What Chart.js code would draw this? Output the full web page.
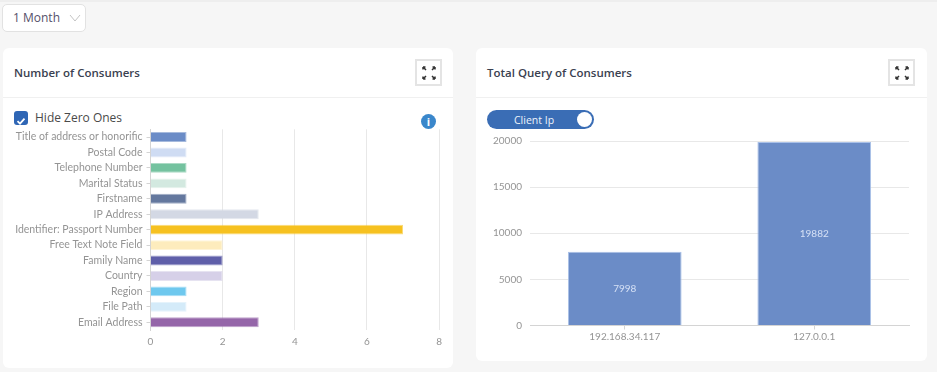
<!DOCTYPE html>
<html lang="en">
<head>
    <meta charset="UTF-8">
    <title>Consumers</title>
    <script src="https://cdn.jsdelivr.net/npm/chart.js"></script>
    <style>
        html, body { margin: 0; padding: 0; }
        body {
            width: 937px; height: 372px; overflow: hidden; position: relative;
            background: #f6f6f6; font-family: "Open Sans", sans-serif; color: #3c4250;
        }
        .topband { position: absolute; left: 0; top: 0; width: 937px; height: 2px; background: #eeeeee; }
        .select {
            position: absolute; left: 2px; top: 4px; width: 82px; height: 26px;
            background: #fff; border: 1px solid #e2e2e2; border-radius: 5px;
            font-size: 12px; line-height: 26px; text-indent: 10px; color: #55506a;
        }
        .select svg { position: absolute; left: 66px; top: 9px; }
        .card { position: absolute; background: #fff; border-radius: 6px; top: 48px; }
        #cardLeft { left: 3px; width: 450px; height: 320px; }
        #cardRight { left: 476px; width: 451px; height: 313px; }
        .divider { position: absolute; left: 0; right: 0; top: 49px; height: 1px; background: #f0f0f0; }
        .title { position: absolute; left: 11px; top: 16px; font-size: 11.5px; font-weight: 600; line-height: 18px; color: #3a4150; }
        .expand {
            position: absolute; top: 11px; width: 23px; height: 23px;
            border: 2px solid #e4e4e4; background: #fff;
        }
        .expand svg { position: absolute; left: 4.5px; top: 4.5px; }
        .check {
            position: absolute; left: 14px; top: 111px; width: 14px; height: 14px;
            background: #2f66b5; border-radius: 3px;
        }
        .checktext { position: absolute; left: 35px; top: 109px; font-size: 12px; line-height: 18px; color: #4a4a4a; }
        .info {
            position: absolute; left: 421px; top: 114px; width: 15px; height: 15px; border-radius: 50%;
            background: #3a87cb; color: #fff; font-size: 11px; font-weight: 700; line-height: 15px; text-align: center;
        }
        .toggle {
            position: absolute; left: 487px; top: 110px; width: 107px; height: 19px;
            background: #3a6db5; border-radius: 10px; color: #eef3fb;
            font-size: 10.5px; line-height: 20px; text-indent: 27px;
        }
        .knob { position: absolute; left: 90px; top: 2px; width: 15px; height: 15px; background: #fff; border-radius: 50%; }
        canvas { position: absolute; display: block; }
        #consumersChart { left: 5px; top: 119px; }
        #queryChart { left: 480px; top: 127px; }
    </style>
</head>
<body>
    <div class="topband"></div>
    <div class="select">1 Month
        <svg width="12" height="8"><path d="M1 1 L6 7 L11 1" fill="none" stroke="#c4c4c4" stroke-width="1"/></svg>
    </div>

    <div class="card" id="cardLeft">
        <div class="title">Number of Consumers</div>
        <div class="expand" style="left:412px"><svg width="14" height="14"><use href="#expandIcon"/></svg></div>
        <div class="divider"></div>
    </div>
    <div class="card" id="cardRight">
        <div class="title">Total Query of Consumers</div>
        <div class="expand" style="left:412px"><svg width="14" height="14"><use href="#expandIcon"/></svg></div>
        <div class="divider"></div>
    </div>

    <div class="check">
        <svg width="14" height="14"><path d="M3.5 7.2 L6 9.6 L10.5 4.6" fill="none" stroke="#fff" stroke-width="1.8"/></svg>
    </div>
    <div class="checktext">Hide Zero Ones</div>
    <div class="info">i</div>
    <div class="toggle">Client Ip<div class="knob"></div></div>

    <canvas id="consumersChart" width="443" height="243"></canvas>
    <canvas id="queryChart" width="440" height="230"></canvas>

    <svg width="0" height="0" style="position:absolute">
        <defs>
            <g id="expandIcon" fill="none" stroke="#333" stroke-width="1.5">
                <path d="M1 1 L4 4 M1 1 L1 3.5 M1 1 L3.5 1"/>
                <path d="M13 1 L10 4 M13 1 L13 3.5 M13 1 L10.5 1"/>
                <path d="M1 13 L4 10 M1 13 L1 10.5 M1 13 L3.5 13"/>
                <path d="M13 13 L10 10 M13 13 L13 10.5 M13 13 L10.5 13"/>
            </g>
        </defs>
    </svg>

    <script>
        // Number of Consumers
        const consumerLabels = ['Title of address or honorific', 'Postal Code', 'Telephone Number', 'Marital Status', 'Firstname', 'IP Address', 'Identifier: Passport Number', 'Free Text Note Field', 'Family Name', 'Country', 'Region', 'File Path', 'Email Address'];
        const consumerValues = [1, 1, 1, 1, 1, 3, 7, 2, 2, 2, 1, 1, 3];
        const consumerTicks = [0, 2, 4, 6, 8];
        const consumerColors = ['#6b8cc7', '#cfdcf3', '#74c29f', '#d3e9e0', '#64789e', '#d3d8e4', '#f6c120', '#fdecbd', '#5f5fa9', '#d6d0e8', '#6ec8ee', '#d4ebf9', '#9566a9'];

        // Total Query of Consumers
        const queryLabels = ['192.168.34.117', '127.0.0.1'];
        const queryValues = [7998, 19882];
        const queryTicks = [0, 5000, 10000, 15000, 20000];

        const labelFont = { family: 'Lato, sans-serif', size: 10.5 };
        const numberFont = { family: 'Lato, sans-serif', size: 10 };
        const tickColor = '#949494';

        // Writes the value in the middle of each bar
        const barValueLabels = {
            id: 'barValueLabels',
            afterDatasetsDraw(chart) {
                const ctx = chart.ctx;
                ctx.save();
                ctx.font = '10px Lato, sans-serif';
                ctx.fillStyle = '#d5e0f5';
                ctx.textAlign = 'center';
                ctx.textBaseline = 'middle';
                chart.getDatasetMeta(0).data.forEach((bar, i) => {
                    ctx.fillText(queryValues[i], bar.x, (bar.y + bar.base) / 2);
                });
                ctx.restore();
            }
        };

        new Chart(document.getElementById('consumersChart'), {
            type: 'bar',
            data: {
                labels: consumerLabels,
                datasets: [{
                    data: consumerValues,
                    backgroundColor: consumerColors,
                    borderColor: consumerColors.map(c => c + '99'),
                    borderWidth: 1,
                    barPercentage: 0.8,
                    categoryPercentage: 0.8
                }]
            },
            options: {
                indexAxis: 'y',
                responsive: false,
                animation: false,
                layout: { padding: { top: 1, right: 2 } },
                plugins: { legend: { display: false }, tooltip: { enabled: false } },
                scales: {
                    x: {
                        min: 0,
                        max: 8,
                        afterBuildTicks: axis => { axis.ticks = consumerTicks.map(value => ({ value })); },
                        afterFit: axis => { axis.height = 32; },
                        border: { display: false },
                        grid: { color: '#e8e8e8', drawTicks: false },
                        ticks: { font: numberFont, color: tickColor, padding: 6, maxRotation: 0 }
                    },
                    y: {
                        afterFit: axis => { axis.width = 145.5; },
                        border: { color: '#d4d4d4' },
                        grid: { offset: false, drawOnChartArea: false, tickLength: 4, tickColor: '#d4d4d4' },
                        ticks: { font: labelFont, color: tickColor, padding: 4, autoSkip: false }
                    }
                }
            }
        });

        new Chart(document.getElementById('queryChart'), {
            type: 'bar',
            data: {
                labels: queryLabels,
                datasets: [{
                    data: queryValues,
                    backgroundColor: '#6b8cc7',
                    borderColor: '#a9c0e8',
                    borderWidth: 1,
                    barPercentage: 0.75,
                    categoryPercentage: 0.8
                }]
            },
            options: {
                responsive: false,
                animation: false,
                layout: { padding: { top: 5, right: 11 } },
                plugins: { legend: { display: false }, tooltip: { enabled: false } },
                scales: {
                    x: {
                        afterFit: axis => { axis.height = 31.5; },
                        border: { color: '#d4d4d4' },
                        grid: { offset: false, drawOnChartArea: false, tickLength: 4, tickColor: '#d4d4d4' },
                        ticks: { font: numberFont, color: tickColor, padding: 1, maxRotation: 0 }
                    },
                    y: {
                        min: 0,
                        max: 20000,
                        afterBuildTicks: axis => { axis.ticks = queryTicks.map(value => ({ value })); },
                        afterFit: axis => { axis.width = 50; },
                        border: { display: false },
                        grid: { color: '#e8e8e8', drawTicks: false },
                        ticks: { font: numberFont, color: tickColor, padding: 8, callback: value => String(value) }
                    }
                }
            },
            plugins: [barValueLabels]
        });
    </script>
</body>
</html>
